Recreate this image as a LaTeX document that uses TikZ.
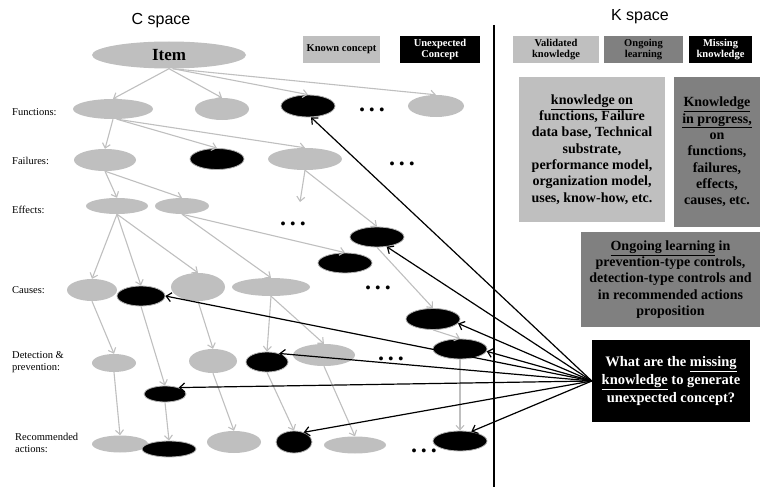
\documentclass[tikz,border=0pt]{standalone}
\usepackage{fontspec}
\setmainfont{Liberation Serif}
\setsansfont{Liberation Sans}
\usetikzlibrary{arrows.meta,shapes.geometric}

\begin{document}
\begin{tikzpicture}[x=1pt, y=-1pt,
  known/.style={ellipse, fill=gray!50, inner sep=0pt},
  unexp/.style={ellipse, fill=black, draw=gray!60, line width=0.8pt, inner sep=0pt},
  link/.style={draw=gray!50, line width=1.1pt, -{Straight Barb[length=4.5pt,width=8pt]}},
  ask/.style={draw=black, line width=1.2pt, -{Straight Barb[length=5pt,width=9pt]}},
  rowlabel/.style={anchor=west, align=left, inner sep=0pt, font=\fontsize{10.5}{12}\selectfont},
  legend/.style={minimum height=27, inner sep=0pt, align=center, font=\fontsize{10.5}{11.5}\selectfont\bfseries},
  kbox/.style={inner sep=0pt, align=center, font=\fontsize{14}{16.3}\selectfont\bfseries},
  etc/.style={anchor=base, inner sep=0pt, font=\fontsize{24}{24}\selectfont\bfseries}]
\useasboundingbox (0,0) rectangle (761,487);

% titles and divider
\node[font=\sffamily\fontsize{16}{16}\selectfont] (ctitle) at (161,21) {C space};
\node[font=\sffamily\fontsize{16}{16}\selectfont] (ktitle) at (640,17) {K space};
\coordinate (divtop) at (494,25);
\coordinate (divbot) at (494,487);
\draw[line width=1.3pt] (divtop) -- (divbot);

% legends
\node[legend, fill=gray!50, minimum width=77] (lgknown) at (341.5,49.5) {Known concept};
\node[legend, fill=black, text=white, minimum width=80] (lgunexp) at (440,49.5) {Unexpected\\Concept};
\node[legend, fill=gray!50, minimum width=86] (lgvalid) at (556,49.5) {Validated\\knowledge};
\node[legend, fill=gray, minimum width=79] (lgongo) at (643.5,49.5) {Ongoing\\learning};
\node[legend, fill=black, text=white, minimum width=63] (lgmiss) at (720.5,49.5) {Missing\\knowledge};

% row labels
\node[rowlabel] (lfun) at (12,112) {Functions:};
\node[rowlabel] (lfail) at (12,161) {Failures:};
\node[rowlabel] (leff) at (12,210) {Effects:};
\node[rowlabel] (lcau) at (12,290) {Causes:};
\node[rowlabel] (ldet) at (12,362) {Detection \&\\prevention:};
\node[rowlabel] (lrec) at (15,443) {Recommended\\actions:};

% C space tree
\node[known, minimum width=154, minimum height=27, font=\fontsize{17}{17}\selectfont\bfseries] (item) at (169,55) {Item};

\node[known, minimum width=80, minimum height=20] (f1) at (113,109) {};
\node[known, minimum width=54, minimum height=22] (f2) at (222,109) {};
\node[unexp, minimum width=54, minimum height=22] (f3) at (308,106) {};
\node[etc] (dots1) at (372,111) {.\hspace{4pt}.\hspace{4pt}.};
\node[known, minimum width=56, minimum height=22] (f4) at (436,106) {};

\node[known, minimum width=62, minimum height=22] (fa1) at (105,160) {};
\node[unexp, minimum width=54, minimum height=21] (fa2) at (217,159) {};
\node[known, minimum width=74, minimum height=22] (fa3) at (305,159) {};
\node[etc] (dots2) at (402,165) {.\hspace{4pt}.\hspace{4pt}.};

\node[known, minimum width=62, minimum height=16] (e1) at (117,206) {};
\node[known, minimum width=54, minimum height=16] (e2) at (182,206) {};
\node[etc] (dots3) at (293,225) {.\hspace{4pt}.\hspace{4pt}.};
\coordinate (fa3end) at (300,202);
\node[unexp, minimum width=54, minimum height=20] (e3) at (377,237) {};
\node[unexp, minimum width=54, minimum height=20] (e4) at (345,263) {};
\node[etc] (dots4) at (378,289) {.\hspace{4pt}.\hspace{4pt}.};

\node[known, minimum width=50, minimum height=22] (c1) at (92,290) {};
\node[unexp, minimum width=48, minimum height=20] (c2) at (141,296) {};
\node[known, minimum width=54, minimum height=28] (c3) at (198,287) {};
\node[known, minimum width=78, minimum height=18] (c4) at (271,287) {};
\node[unexp, minimum width=54, minimum height=21] (c5) at (433,319) {};

\node[known, minimum width=44, minimum height=18] (d1) at (114,363) {};
\node[known, minimum width=48, minimum height=24] (d2) at (213,361) {};
\node[unexp, minimum width=42, minimum height=20] (d3) at (267,362) {};
\node[known, minimum width=62, minimum height=22] (d4) at (324,355) {};
\node[etc] (dots5) at (391,360) {.\hspace{4pt}.\hspace{4pt}.};
\node[unexp, minimum width=54, minimum height=20] (d5) at (460,349) {};
\node[unexp, minimum width=42, minimum height=16] (d6) at (165,394) {};

\node[known, minimum width=56, minimum height=17] (r1) at (120,444) {};
\node[unexp, minimum width=54, minimum height=16] (r2) at (169,449) {};
\node[known, minimum width=54, minimum height=22] (r3) at (234,442) {};
\node[unexp, minimum width=36, minimum height=22] (r4) at (294,442) {};
\node[known, minimum width=62, minimum height=17] (r5) at (355,445) {};
\node[etc] (dots6) at (424,452) {.\hspace{4pt}.\hspace{4pt}.};
\node[unexp, minimum width=54, minimum height=20] (r6) at (460,441) {};

% tree links
\draw[link] (item.south) -- (f1.north);
\draw[link] (item.south) -- (f2.north);
\draw[link] (item.-75) -- (f3.north);
\draw[link] (item.-75) -- (f4.north);
\draw[link] (f1.south) -- (fa1.north);
\draw[link] (f1.-70) -- (fa2.north);
\draw[link] (f1.-70) -- (fa3.north);
\draw[link] (fa1.south) -- (e1.north);
\draw[link] (fa1.south) -- (e2.north);
\draw[link] (fa3.south) -- (fa3end);
\draw[link] (fa3.south) -- (e3.north);
\draw[link] (e1.south) -- (c1.north);
\draw[link] (e1.south) -- (c2.north);
\draw[link] (e1.south) -- (c3.north);
\draw[link] (e2.south) -- (e4.north);
\draw[link] (e2.south) -- (c4.north);
\draw[link] (e3.south) -- (c5.north);
\draw[link] (c1.south) -- (d1.north);
\draw[link] (c2.south) -- (d6.north);
\draw[link] (c3.south) -- (d2.north);
\draw[link] (c4.south) -- (d3.north);
\draw[link] (c4.south) -- (d4.north);
\draw[link] (c5.south) -- (d5.north);
\draw[link] (d1.south) -- (r1.north);
\draw[link] (d6.south) -- (r2.north);
\draw[link] (d2.south) -- (r3.north);
\draw[link] (d3.south) -- (r4.north);
\draw[link] (d4.south) -- (r5.north);
\draw[link] (d5.south) -- (r6.north);

% K space boxes
\node[kbox, fill=gray!50, minimum width=146, minimum height=145] (kval) at (592,149.5)
  {\underline{knowledge on}\\functions, Failure\\data base, Technical\\substrate,\\performance model,\\organization model,\\uses, know-how, etc.};
\node[kbox, fill=gray, minimum width=86, minimum height=150] (kprog) at (717,152)
  {\underline{Knowledge}\\\underline{in progress,}\\on\\functions,\\failures,\\effects,\\causes, etc.};
\node[kbox, fill=gray, minimum width=179, minimum height=95] (kongo) at (670.5,279.5)
  {\underline{Ongoing learning} in\\prevention-type controls,\\detection-type controls and\\in recommended actions\\proposition};
\node[kbox, fill=black, text=white, minimum width=158, minimum height=82, font=\fontsize{14.5}{18}\selectfont\bfseries] (q) at (671,381)
  {What are the \underline{missing}\\\underline{knowledge} to generate\\unexpected concept?};

% missing knowledge arrows
\draw[ask] (q.west) -- (f3.-75);
\draw[ask] (q.west) -- (e3.-45);
\draw[ask] (q.west) -- (c5.-10);
\draw[ask] (q.west) -- (d5.-5);
\draw[ask] (q.west) -- (c2.east);
\draw[ask] (q.west) -- (d3.35);
\draw[ask] (q.west) -- (d6.25);
\draw[ask] (q.west) -- (r4.45);
\draw[ask] (q.west) -- (r6.40);
\end{tikzpicture}
\end{document}
